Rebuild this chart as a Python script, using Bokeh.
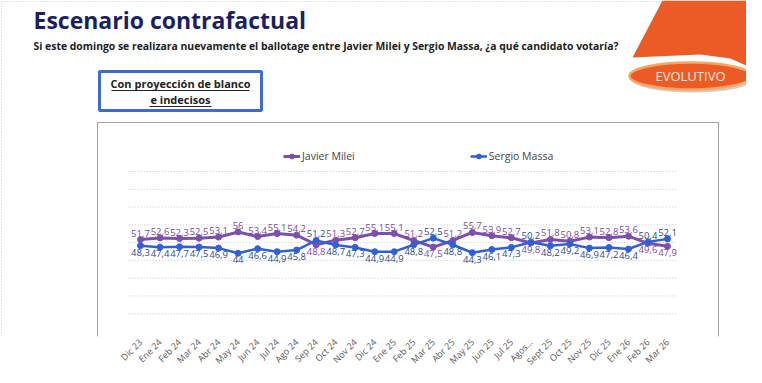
from bokeh.plotting import figure
from bokeh.models import (Range1d, FixedTicker, Label, BoxAnnotation, LinearAxis,
                          Legend, LegendItem, ColumnDataSource)
from bokeh.embed import file_html
from bokeh.resources import INLINE
from bokeh.core.properties import value
import math

meses = ["Dic 23", "Ene 24", "Feb 24", "Mar 24", "Abr 24", "May 24", "Jun 24", "Jul 24",
         "Ago 24", "Sep 24", "Oct 24", "Nov 24", "Dic 24", "Ene 25", "Feb 25", "Mar 25",
         "Abr 25", "May 25", "Jun 25", "Jul 25", "Agos...", "Sept 25", "Oct 25", "Nov 25",
         "Dic 25", "Ene 26", "Feb 26", "Mar 26"]
milei = [51.7, 52.6, 52.3, 52.5, 53.1, 56, 53.4, 55.1, 54.2, 48.8, 51.3, 52.7, 55.1, 55.1,
         51.2, 47.5, 51.2, 55.7, 53.9, 52.7, 49.8, 51.8, 50.8, 53.1, 52.8, 53.6, 49.6, 47.9]
massa = [48.3, 47.4, 47.7, 47.5, 46.9, 44, 46.6, 44.9, 45.8, 51.2, 48.7, 47.3, 44.9, 44.9,
         48.8, 52.5, 48.8, 44.3, 46.1, 47.3, 50.2, 48.2, 49.2, 46.9, 47.2, 46.4, 50.4, 52.1]
grid_vals = [10, 20, 30, 40, 50, 60, 70, 80, 90]

PUR = "#7b4fab"
BLU = "#3160d6"
PUR_T = "#7a4a9e"
BLU_T = "#2c4c86"
ORANGE = "#ec5b26"
FONT = "Open Sans"

FW, FH = 746, 336
p = figure(frame_width=FW, frame_height=FH, x_range=Range1d(0, FW), y_range=Range1d(FH, 0),
           x_axis_type=None, y_axis_type=None, output_backend="svg", toolbar_location=None,
           min_border_left=0, min_border_right=0, min_border_top=0, min_border_bottom=0)
p.outline_line_color = None
p.background_fill_color = "white"
p.border_fill_color = "white"

# chart scales: month index and percentage value
idx = list(range(len(meses)))
px_per_val = 160 / 90
val_start = -(341 - FH) / px_per_val
p.extra_x_ranges = {"mes": Range1d(-7.1727, 31.047)}
p.extra_y_ranges = {"val": Range1d(val_start, val_start + FH / px_per_val)}

ax = LinearAxis(x_range_name="mes", ticker=FixedTicker(ticks=idx),
                major_label_overrides={i: m for i, m in enumerate(meses)})
ax.axis_line_color = None
ax.major_tick_line_color = None
ax.minor_tick_line_color = None
ax.major_tick_out = 0
ax.major_tick_in = 0
ax.major_label_orientation = math.pi / 4
ax.major_label_text_font = FONT
ax.major_label_text_font_size = "9px"
ax.major_label_text_color = "#595959"
ax.major_label_standoff = 4
p.add_layout(ax, "below")

# decorations (main range = picture pixels, y downwards)
p.add_layout(BoxAnnotation(left=1, right=760, top=1, bottom=500, fill_alpha=0,
                           line_color="#c8c8c8", line_alpha=1, line_width=1, line_dash="1 2",
                           level="underlay"))
p.add_layout(BoxAnnotation(left=97, right=718, top=122, bottom=500, fill_alpha=0,
                           line_color="#a6a6a6", line_alpha=1, line_width=1, level="underlay"))

p.segment(x0=-0.6, x1=27.5, y0=grid_vals, y1=grid_vals, x_range_name="mes", y_range_name="val",
          line_color="#c9c9c9", line_dash="1 2", line_width=1)

p.add_layout(Label(x=33, y=3, text="Escenario contrafactual", text_font=FONT,
                   text_font_size="23px", text_font_style="bold", text_color="#1c1f5e",
                   text_baseline="top"))
p.add_layout(Label(x=33, y=38, text="Si este domingo se realizara nuevamente el ballotage entre Javier Milei y Sergio Massa, ¿a qué candidato votaría?",
                   text_font=FONT, text_font_size="10.4px", text_font_style="bold",
                   text_color="#222222", text_baseline="top"))

p.add_layout(BoxAnnotation(left=99, right=261, top=71, bottom=110, fill_alpha=0,
                           line_color="#3d6bd0", line_alpha=1, line_width=3))
p.add_layout(Label(x=180, y=75, text="Con proyección de blanco", text_font=FONT,
                   text_font_size="11px", text_font_style="bold", text_color="#222222",
                   text_baseline="top", text_align="center"))
p.add_layout(Label(x=180, y=91, text="e indecisos", text_font=FONT, text_font_size="11px",
                   text_font_style="bold", text_color="#222222", text_baseline="top",
                   text_align="center"))
p.segment(x0=[111, 149], x1=[249, 211], y0=[90, 106], y1=[90, 106],
          line_color="#222222", line_width=1)

p.patch(x=[662, 762, 762, 757, 748, 730, 700, 632], y=[0, 0, 110, 80, 66, 58, 54, 57],
        fill_color=ORANGE, line_color=None)
p.ellipse(x=[692], y=[78], width=[124], height=[28], fill_color="#b9a9a0", fill_alpha=0.6,
          line_color=None)
p.ellipse(x=[690], y=[75.5], width=[122], height=[27], fill_color=ORANGE, line_color="#f7a560",
          line_width=2.5)
p.add_layout(Label(x=690, y=75.5, text="EVOLUTIVO", text_font=FONT, text_font_size="13px",
                   text_color="#fde9dc", text_baseline="middle", text_align="center"))

# series
def fmt(v):
    return f"{v:g}".replace(".", ",")

def label_sources(vals, other):
    up = dict(x=[], y=[], t=[])
    dn = dict(x=[], y=[], t=[])
    for i, v, o in zip(idx, vals, other):
        d = up if v >= o else dn
        d["x"].append(i); d["y"].append(v); d["t"].append(fmt(v))
    return ColumnDataSource(up), ColumnDataSource(dn)

kw = dict(x_range_name="mes", y_range_name="val")
r1 = p.line(idx, milei, line_color=PUR, line_width=3, **kw)
c1 = p.scatter(idx, milei, size=6, fill_color=PUR, line_color=PUR, **kw)
r2 = p.line(idx, massa, line_color=BLU, line_width=2.5, **kw)
c2 = p.scatter(idx, massa, size=6, fill_color=BLU, line_color=BLU, **kw)

for vals, other, col in ((milei, massa, PUR_T), (massa, milei, BLU_T)):
    up, dn = label_sources(vals, other)
    p.text(x="x", y="y", text="t", source=up, text_font=value(FONT), text_font_size="9.5px",
           text_color=col, text_align="center", text_baseline="bottom", y_offset=-3, **kw)
    p.text(x="x", y="y", text="t", source=dn, text_font=value(FONT), text_font_size="9.5px",
           text_color=col, text_align="center", text_baseline="top", y_offset=3, **kw)

legend = Legend(items=[LegendItem(label="Javier Milei", renderers=[r1, c1]),
                       LegendItem(label="Sergio Massa", renderers=[r2, c2])],
                orientation="horizontal", location=(283, FH - 163), spacing=115, padding=0,
                margin=0, border_line_color=None, background_fill_alpha=0, label_text_font=FONT,
                label_text_font_size="10.5px", label_text_color="#444444", glyph_width=17,
                glyph_height=12, label_standoff=2)
p.add_layout(legend)

open("out.html", "w").write(file_html(p, INLINE))
